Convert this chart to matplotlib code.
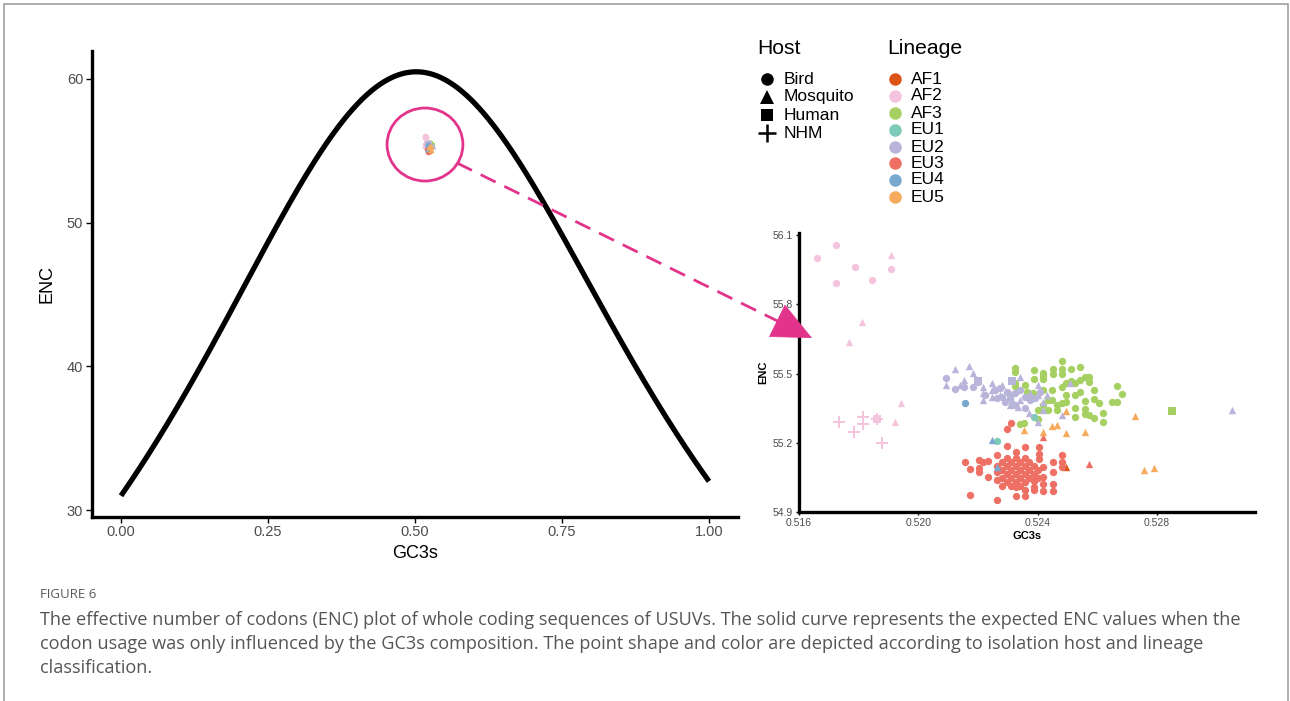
import numpy as np
import matplotlib
matplotlib.use("Agg")
import matplotlib.pyplot as plt
from matplotlib.patches import Ellipse

plt.rcParams["font.family"] = ["Liberation Sans", "DejaVu Sans"]

# ---- data (GC3s, ENC, host) per lineage ----
# host codes: B = Bird, M = Mosquito, H = Human, N = NHM
af1_gc3s = [0.52495]
af1_enc = [55.095]
af1_host = ["M"]

af2_gc3s = [0.51660, 0.51724, 0.51788, 0.51724, 0.51845, 0.51908, 0.51908, 0.51811, 0.51768,
            0.51734, 0.51784, 0.51815, 0.51815, 0.51862, 0.51862, 0.51878, 0.51922, 0.51942]
af2_enc = [56.000, 56.057, 55.962, 55.892, 55.905, 56.014, 55.953, 55.723, 55.637,
           55.290, 55.247, 55.312, 55.281, 55.303, 55.303, 55.199, 55.290, 55.372]
af2_host = ["B", "B", "B", "B", "B", "M", "B", "M", "M",
            "N", "N", "N", "N", "N", "H", "N", "M", "M"]

af3_gc3s = [0.52324, 0.52324, 0.52388, 0.52388, 0.52418, 0.52418, 0.52418, 0.52452, 0.52452,
            0.52482, 0.52482, 0.52482, 0.52512, 0.52542, 0.52482, 0.52495, 0.52512, 0.52525,
            0.52542, 0.52559, 0.52572, 0.52572, 0.52666, 0.52683, 0.52650, 0.52666, 0.52606,
            0.52589, 0.52559, 0.52525, 0.52525, 0.52559, 0.52559, 0.52572, 0.52589, 0.52619,
            0.52619, 0.52525, 0.52495, 0.52482, 0.52465, 0.52448, 0.52435, 0.52418, 0.52401,
            0.52401, 0.52385, 0.52385, 0.52354, 0.52341, 0.52465, 0.52324, 0.52324, 0.52364,
            0.52435, 0.52448, 0.52495, 0.52542, 0.52589, 0.52358, 0.52418, 0.52851]
af3_enc = [55.524, 55.507, 55.515, 55.476, 55.502, 55.489, 55.476, 55.520, 55.498,
           55.554, 55.520, 55.498, 55.520, 55.528, 55.442, 55.459, 55.468, 55.459,
           55.472, 55.485, 55.485, 55.463, 55.446, 55.411, 55.377, 55.377, 55.372,
           55.390, 55.381, 55.407, 55.351, 55.346, 55.325, 55.320, 55.307, 55.329,
           55.290, 55.312, 55.377, 55.372, 55.364, 55.385, 55.342, 55.364, 55.342,
           55.303, 55.416, 55.394, 55.286, 55.281, 55.342, 55.459, 55.446, 55.420,
           55.385, 55.429, 55.407, 55.420, 55.429, 55.450, 55.429, 55.338]
af3_host = ["B"] * 61 + ["H"]

eu1_gc3s = [0.52264, 0.52388]
eu1_enc = [55.208, 55.312]
eu1_host = ["B", "B"]

eu2_gc3s = [0.52123, 0.52170, 0.52183, 0.52093, 0.52140, 0.52153, 0.52217, 0.52217, 0.52217,
            0.52247, 0.52247, 0.52247, 0.52281, 0.52307, 0.52314, 0.52334, 0.52371, 0.52401,
            0.52418, 0.52341, 0.52307, 0.52341, 0.52375, 0.52401, 0.52401, 0.52432, 0.52509,
            0.52482, 0.52418, 0.52274, 0.53052,
            0.52093, 0.52123, 0.52153, 0.52183, 0.52200, 0.52264, 0.52281, 0.52297, 0.52324,
            0.52341, 0.52358, 0.52375, 0.52307, 0.52391, 0.52408, 0.52257, 0.52291, 0.52324,
            0.52358, 0.52274, 0.52224,
            0.52200, 0.52314]
eu2_enc = [55.520, 55.533, 55.502, 55.450, 55.450, 55.472, 55.442, 55.416, 55.385,
           55.459, 55.429, 55.398, 55.450, 55.364, 55.385, 55.355, 55.329, 55.290,
           55.377, 55.485, 55.416, 55.385, 55.416, 55.450, 55.407, 55.407, 55.459,
           55.320, 55.342, 55.407, 55.342,
           55.481, 55.433, 55.442, 55.442, 55.463, 55.394, 55.398, 55.420, 55.416,
           55.429, 55.398, 55.385, 55.394, 55.394, 55.420, 55.429, 55.377, 55.364,
           55.351, 55.437, 55.407,
           55.468, 55.468]
eu2_host = ["M"] * 31 + ["B"] * 21 + ["H"] * 2

eu3_gc3s = [0.52418, 0.52572,
            0.52311, 0.52297, 0.52297, 0.52358, 0.52405, 0.52482, 0.52264, 0.52328, 0.52157,
            0.52204, 0.52217, 0.52234, 0.52173, 0.52204, 0.52204, 0.52234, 0.52264, 0.52418,
            0.52418, 0.52418, 0.52418, 0.52452, 0.52452, 0.52452, 0.52452, 0.52482, 0.52482,
            0.52358, 0.52328, 0.52264, 0.52173, 0.52405, 0.52405, 0.52388, 0.52328, 0.52388,
            0.52281, 0.52281, 0.52281, 0.52297, 0.52297, 0.52297, 0.52297, 0.52311, 0.52311,
            0.52311, 0.52328, 0.52328, 0.52328, 0.52328, 0.52341, 0.52341, 0.52341, 0.52341,
            0.52358, 0.52358, 0.52358, 0.52358, 0.52371, 0.52371, 0.52371, 0.52388, 0.52388,
            0.52388, 0.52311, 0.52281, 0.52358, 0.52264, 0.52264, 0.52401, 0.52401]
eu3_enc = [55.225, 55.108,
           55.286, 55.260, 55.186, 55.182, 55.182, 55.147, 55.147, 55.160, 55.117,
           55.125, 55.117, 55.121, 55.086, 55.091, 55.073, 55.052, 55.039, 55.095,
           55.052, 55.021, 54.991, 55.117, 55.073, 55.021, 54.991, 55.117, 55.095,
           54.969, 54.969, 54.952, 54.974, 55.130, 55.151, 55.008, 55.008, 54.995,
           55.117, 55.082, 55.047, 55.134, 55.099, 55.065, 55.030, 55.117, 55.082,
           55.047, 55.134, 55.099, 55.065, 55.030, 55.117, 55.082, 55.047, 55.013,
           55.134, 55.099, 55.065, 55.030, 55.117, 55.082, 55.047, 55.099, 55.065,
           55.034, 55.013, 55.013, 54.995, 55.099, 55.073, 55.082, 55.047]
eu3_host = ["M", "M"] + ["B"] * 71

eu4_gc3s = [0.52157, 0.52247, 0.52264]
eu4_enc = [55.372, 55.212, 55.095]
eu4_host = ["B", "M", "M"]

eu5_gc3s = [0.52495, 0.52727, 0.52354, 0.52418, 0.52448, 0.52465, 0.52495, 0.52559, 0.52757, 0.52790]
eu5_enc = [55.338, 55.316, 55.255, 55.247, 55.273, 55.277, 55.242, 55.247, 55.082, 55.091]
eu5_host = ["M"] * 10

lineages = ["AF1", "AF2", "AF3", "EU1", "EU2", "EU3", "EU4", "EU5"]
lineage_data = {
    "AF1": (af1_gc3s, af1_enc, af1_host),
    "AF2": (af2_gc3s, af2_enc, af2_host),
    "AF3": (af3_gc3s, af3_enc, af3_host),
    "EU1": (eu1_gc3s, eu1_enc, eu1_host),
    "EU2": (eu2_gc3s, eu2_enc, eu2_host),
    "EU3": (eu3_gc3s, eu3_enc, eu3_host),
    "EU4": (eu4_gc3s, eu4_enc, eu4_host),
    "EU5": (eu5_gc3s, eu5_enc, eu5_host),
}
lineage_colors = {
    "AF1": "#DD5418", "AF2": "#F4C3DD", "AF3": "#A7D063", "EU1": "#7DCAB8",
    "EU2": "#B9B5DA", "EU3": "#EE7064", "EU4": "#78A8CF", "EU5": "#F6AA5C",
}
hosts = ["Bird", "Mosquito", "Human", "NHM"]
host_codes = {"Bird": "B", "Mosquito": "M", "Human": "H", "NHM": "N"}
host_markers = {"Bird": "o", "Mosquito": "^", "Human": "s", "NHM": "+"}

PINK = "#E2348B"
TICK_COL = "#4D4D4D"

fig = plt.figure(figsize=(12.9, 7.01), dpi=100)


def draw_points(ax, size, plus_scale, plus_lw):
    for lin in lineages:
        gx, ey, hs = lineage_data[lin]
        gx = np.asarray(gx)
        ey = np.asarray(ey)
        hs = np.asarray(hs)
        for host in hosts:
            m = hs == host_codes[host]
            if not m.any():
                continue
            mk = host_markers[host]
            if mk == "+":
                ax.scatter(gx[m], ey[m], marker=mk, s=size * plus_scale, color=lineage_colors[lin],
                           linewidths=plus_lw, zorder=3)
            else:
                ax.scatter(gx[m], ey[m], marker=mk, s=size, color=lineage_colors[lin],
                           linewidths=0, zorder=3)


def style_axes(ax, spine_lw, tick_size, tick_len):
    for side in ("top", "right"):
        ax.spines[side].set_visible(False)
    for side in ("left", "bottom"):
        ax.spines[side].set_linewidth(spine_lw)
        ax.spines[side].set_capstyle("projecting")
    ax.tick_params(length=tick_len, width=1.0, labelsize=tick_size, labelcolor=TICK_COL,
                   colors="black", pad=2)
    for lab in ax.get_xticklabels() + ax.get_yticklabels():
        lab.set_color(TICK_COL)


# ---- main panel: ENC vs GC3s with expected curve ----
ax = fig.add_axes([0.0710, 0.2626, 0.5014, 0.6652])
# expected ENC under GC3s-only influence (Wright 1990)
s_grid = np.linspace(0, 1, 401)
ax.plot(s_grid, 2 + s_grid + 29 / (s_grid ** 2 + (1 - s_grid) ** 2), color="black", lw=3.8,
        solid_capstyle="butt", zorder=2)
draw_points(ax, 16, 1.5, 0.8)
ax.add_patch(Ellipse((0.517, 55.44), 0.129, 5.08, fill=False, edgecolor=PINK, lw=2, zorder=4))
ax.set_xlim(-0.05, 1.05)
ax.set_ylim(29.525, 61.975)
ax.set_xticks([0, 0.25, 0.5, 0.75, 1.0])
ax.set_xticklabels(["0.00", "0.25", "0.50", "0.75", "1.00"])
ax.set_yticks([30, 40, 50, 60])
style_axes(ax, 2.4, 10.5, 4)
ax.set_xlabel("GC3s", fontsize=13, labelpad=4)
ax.set_ylabel("ENC", fontsize=13, labelpad=8)

# ---- zoomed inset ----
ax2 = fig.add_axes([0.6194, 0.2696, 0.3537, 0.3984])
draw_points(ax2, 28, 2.6, 1.4)
ax2.set_xlim(0.516, 0.5313)
ax2.set_ylim(54.9, 56.11)
ax2.set_xticks([0.516, 0.520, 0.524, 0.528])
ax2.set_xticklabels(["0.516", "0.520", "0.524", "0.528"])
ax2.set_yticks([54.9, 55.2, 55.5, 55.8, 56.1])
ax2.set_yticklabels(["54.9", "55.2", "55.5", "55.8", "56.1"])
style_axes(ax2, 2.4, 7.5, 2.5)
ax2.set_xlabel("GC3s", fontsize=8, fontweight="bold", labelpad=2)
ax2.set_ylabel("ENC", fontsize=8, fontweight="bold", labelpad=3)

# ---- overlay in pixel coordinates: legends, arrow, caption, frame ----
ov = fig.add_axes([0, 0, 1, 1], zorder=10)
ov.set_xlim(0, 1290)
ov.set_ylim(701, 0)
ov.axis("off")
ov.patch.set_alpha(0)

# frame
ov.plot([4, 4, 1288, 1288], [701, 4, 4, 701], color="#a0a0a0", lw=1.2, solid_joinstyle="miter")

# dashed arrow from main ellipse to inset
x0, y0 = 457, 163
x1, y1 = 812, 338
ux, uy = (x1 - x0), (y1 - y0)
L = np.hypot(ux, uy)
ux, uy = ux / L, uy / L
head = 26
ov.plot([x0, x1 - ux * head], [y0, y1 - uy * head], color=PINK, lw=2, linestyle=(0, (6, 3.5)))
ov.annotate("", xy=(x1, y1), xytext=(x1 - ux * (head + 2), y1 - uy * (head + 2)),
            arrowprops=dict(arrowstyle="-|>,head_length=1.3,head_width=0.6", color=PINK,
                            lw=0.5, mutation_scale=21, shrinkA=0, shrinkB=0))

# legends
ov.text(757, 49, "Host", fontsize=15.2, va="center", ha="left")
host_y = [79, 97, 115, 133]
for host, yy in zip(hosts, host_y):
    mk = host_markers[host]
    if mk == "+":
        ov.plot(767, yy, marker="+", color="black", ms=13, mew=1.8, linestyle="none")
    else:
        ms = {"o": 9, "^": 10, "s": 8}[mk]
        ov.plot(767, yy, marker=mk, color="black", ms=ms, mew=0, linestyle="none")
    ov.text(784, yy, host, fontsize=12.5, va="center", ha="left")

ov.text(887, 49, "Lineage", fontsize=15.2, va="center", ha="left")
lin_y = [79, 96, 113, 130, 147, 163, 180, 197]
for lin, yy in zip(lineages, lin_y):
    ov.plot(895, yy, marker="o", color=lineage_colors[lin], ms=9, mew=0, linestyle="none")
    ov.text(911, yy, lin, fontsize=12.5, va="center", ha="left")

# caption
cap_font = ["Open Sans", "DejaVu Sans"]
ov.text(40, 594, "FIGURE 6", fontsize=9.5, color="#5a5a5a", va="center", ha="left",
        family=cap_font)
caption = [
    "The effective number of codons (ENC) plot of whole coding sequences of USUVs. The solid curve "
    "represents the expected ENC values when the",
    "codon usage was only influenced by the GC3s composition. The point shape and color are depicted "
    "according to isolation host and lineage",
    "classification.",
]
for txt, yy in zip(caption, [620, 644, 668]):
    ov.text(40, yy, txt, fontsize=13.1, color="#555555", va="center", ha="left", family=cap_font)

fig.savefig("out.png", dpi=100)
